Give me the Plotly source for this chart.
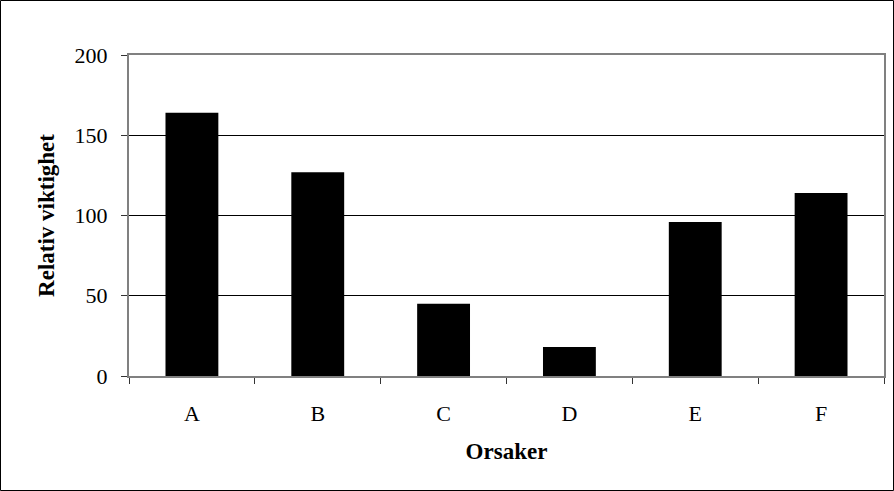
import plotly.graph_objects as go

categories = ["A", "B", "C", "D", "E", "F"]
values = [164, 127, 45, 18, 96, 114]
y_ticks = [0, 50, 100, 150, 200]

W, H = 894, 491
L, R, T, B = 129, 10, 55, 115
pw, ph = W - L - R, H - T - B

font_family = "Liberation Serif, Times New Roman, serif"

fig = go.Figure(go.Bar(
    x=categories, y=values,
    marker=dict(color="black", line=dict(color="black", width=0)),
    width=0.42,
))

fig.update_layout(
    width=W, height=H,
    margin=dict(l=L, r=R, t=T, b=B, autoexpand=False),
    paper_bgcolor="white", plot_bgcolor="white",
    font=dict(family=font_family, size=22, color="black"),
    showlegend=False,
)

fig.update_xaxes(
    showline=True, linecolor="#808080", linewidth=2, mirror=True,
    ticks="outside", tickson="boundaries", ticklen=6, tickcolor="#333333",
    tickfont=dict(size=22), ticklabelstandoff=17,
    title=dict(text="<b>Orsaker</b>", font=dict(size=23), standoff=17),
    showgrid=False, automargin=False,
)
fig.update_yaxes(
    range=[0, 200], tickvals=y_ticks,
    showline=True, linecolor="#808080", linewidth=2, mirror=True,
    ticks="outside", ticklen=6, tickcolor="#333333",
    tickfont=dict(size=22), ticklabelstandoff=9,
    showgrid=True, gridcolor="black", gridwidth=1,
    zeroline=False,
    title=dict(text="<b>Relativ viktighet</b>", font=dict(size=23), standoff=14),
    automargin=False,
)

# outer frame around the whole chart
fig.add_shape(
    type="rect", xref="paper", yref="paper",
    x0=(0.5 - L) / pw, x1=(W - 0.5 - L) / pw,
    y0=-(H - 0.5 - T - ph) / ph, y1=(T - 0.5) / ph + 1,
    line=dict(color="black", width=1), fillcolor="rgba(0,0,0,0)",
    layer="below",
)

fig.write_html(
    "out.html",
    config={"displayModeBar": False},
    post_script="document.body.style.margin='0';document.body.style.overflow='hidden';",
)
